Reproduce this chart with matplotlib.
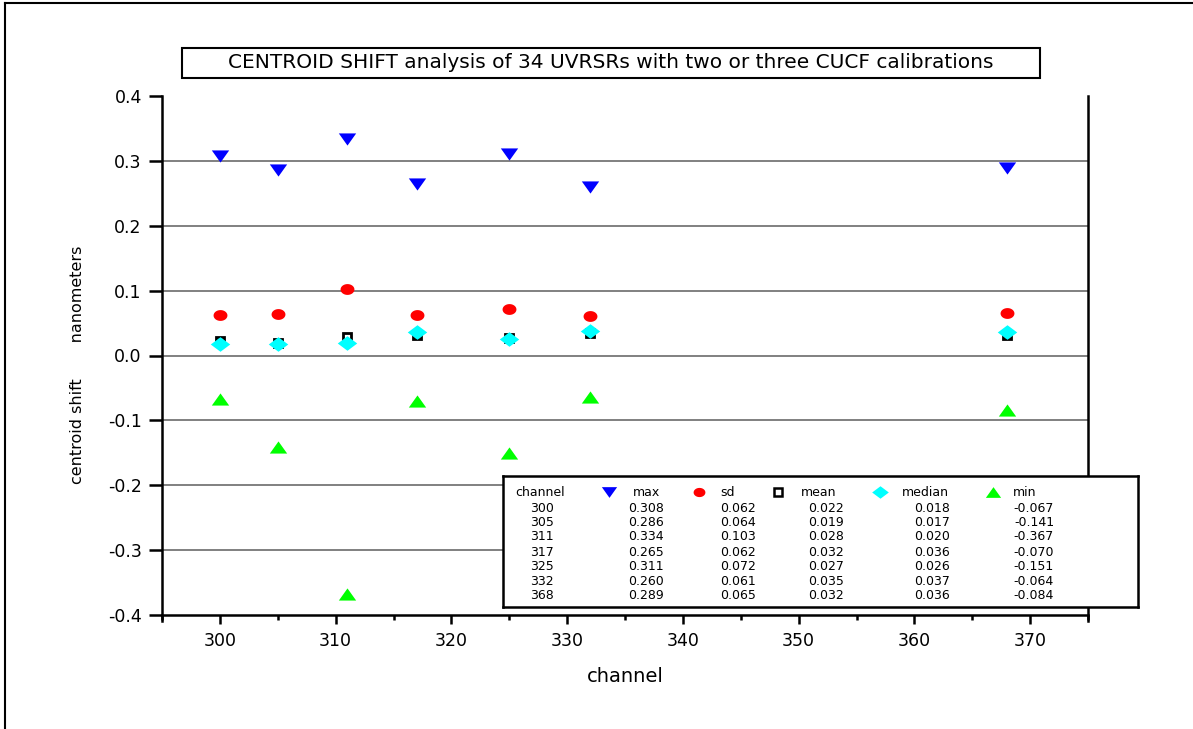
import numpy as np
import matplotlib
matplotlib.use('Agg')
import matplotlib.pyplot as plt
from matplotlib.lines import Line2D

# values from the table in the chart
channel = [300, 305, 311, 317, 325, 332, 368]
max_shift = [0.308, 0.286, 0.334, 0.265, 0.311, 0.260, 0.289]
sd_shift = [0.062, 0.064, 0.103, 0.062, 0.072, 0.061, 0.065]
mean_shift = [0.022, 0.019, 0.028, 0.032, 0.027, 0.035, 0.032]
median_shift = [0.018, 0.017, 0.020, 0.036, 0.026, 0.037, 0.036]
min_shift = [-0.067, -0.141, -0.367, -0.070, -0.151, -0.064, -0.084]

yticks = [-0.4, -0.3, -0.2, -0.1, 0.0, 0.1, 0.2, 0.3, 0.4]
xticks = [300, 310, 320, 330, 340, 350, 360, 370]

plt.rcParams['font.family'] = ['DejaVu Sans']

W, H = 1193, 729
fig = plt.figure(figsize=(W / 100, H / 100), dpi=100)

def fx(x):
    return x / W

def fy(y):
    return 1 - y / H

# outer frame (top and left edges are visible)
fig.add_artist(Line2D([fx(5), fx(5)], [fy(3), 0], transform=fig.transFigure, color='k', lw=1.5))
fig.add_artist(Line2D([fx(5), 1], [fy(3), fy(3)], transform=fig.transFigure, color='k', lw=1.5))

ax = fig.add_axes([fx(162), fy(615), fx(1088) - fx(162), fy(96) - fy(615)])

tri_down = [(-1, 0.7), (1, 0.7), (0, -0.7)]
tri_up = [(-1, -0.7), (1, -0.7), (0, 0.7)]
diamond = [(-1, 0), (0, 0.75), (1, 0), (0, -0.75)]
ellipse = [(np.cos(t), 0.78 * np.sin(t)) for t in np.linspace(0, 2 * np.pi, 40)]

ax.plot(channel, max_shift, ls='none', marker=tri_down, ms=12.5, color='#0000ff', mec='none')
ax.plot(channel, sd_shift, ls='none', marker=ellipse, ms=10, color='#ff0000', mec='none')
ax.plot(channel, mean_shift, ls='none', marker='s', ms=5.5, mfc='white', mec='black', mew=2)
ax.plot(channel, median_shift, ls='none', marker=diamond, ms=14, color='#00ffff', mec='none')
ax.plot(channel, min_shift, ls='none', marker=tri_up, ms=12.5, color='#00ff00', mec='none')

for v in yticks[1:-1]:
    ax.axhline(v, color='#808080', lw=1.4, zorder=0)

ax.set_xlim(295, 375)
ax.set_ylim(-0.4, 0.4)
ax.spines['top'].set_visible(False)
for s in ['left', 'right', 'bottom']:
    ax.spines[s].set_linewidth(1.8)
ax.spines['right'].set_bounds(-0.41, 0.4)
ax.spines['left'].set_bounds(-0.41, 0.4)

ax.set_yticks(yticks)
ax.set_yticklabels([f'{v:.1f}' for v in yticks])
ax.set_xticks(xticks)
ax.set_xticks(np.arange(295, 376, 10), minor=True)
ax.tick_params(axis='y', direction='out', length=9.5, width=1.8, labelsize=12.5, pad=5, right=False)
ax.tick_params(axis='x', which='major', direction='out', length=6.5, width=1.8, labelsize=12.5, pad=6)
ax.tick_params(axis='x', which='minor', direction='out', length=3.6, width=1.8)

ax.set_xlabel('channel', fontsize=14, labelpad=12)
fig.text(fx(77), fy(365), 'centroid shift       nanometers', rotation=90,
         ha='center', va='center', fontsize=11.5)

# title box
fig.text(fx(611), fy(63), 'CENTROID SHIFT analysis of 34 UVRSRs with two or three CUCF calibrations',
         ha='center', va='center', fontsize=14.5)
fig.add_artist(plt.Rectangle((fx(182), fy(78)), fx(1040) - fx(182), fy(48) - fy(78),
                             transform=fig.transFigure, fill=False, ec='k', lw=1.5))

# table legend
bx0, bx1, by0, by1 = 503, 1138, 476, 607
lg = fig.add_axes([fx(bx0), fy(by1), fx(bx1) - fx(bx0), fy(by0) - fy(by1)], zorder=5)
lg.set_xlim(bx0, bx1)
lg.set_ylim(by1, by0)
lg.set_xticks([])
lg.set_yticks([])
for s in lg.spines.values():
    s.set_linewidth(1.8)

hy = 492
rows_y = [508, 522, 536, 552, 566, 581, 595]
fs = 9

lg.text(515, hy, 'channel', fontsize=fs, va='center', ha='left')
for y, c in zip(rows_y, channel):
    lg.text(542, y, str(c), fontsize=fs, va='center', ha='center')

columns = [
    ('max', max_shift, 609, 646, 664, dict(marker=tri_down, ms=11, color='#0000ff', mec='none')),
    ('sd', sd_shift, 699, 728, 756, dict(marker=ellipse, ms=8.5, color='#ff0000', mec='none')),
    ('mean', mean_shift, 778, 819, 844, dict(marker='s', ms=5.5, mfc='white', mec='black', mew=1.8)),
    ('median', median_shift, 880, 925, 950, dict(marker=diamond, ms=12, color='#00ffff', mec='none')),
    ('min', min_shift, 993, 1025, 1054, dict(marker=tri_up, ms=11, color='#00ff00', mec='none')),
]
for name, vals, mx, lx, rx, style in columns:
    lg.plot([mx], [hy], ls='none', **style)
    lg.text(lx, hy, name, fontsize=fs, va='center', ha='center')
    for y, v in zip(rows_y, vals):
        lg.text(rx, y, f'{v:.3f}', fontsize=fs, va='center', ha='right')

fig.savefig('out.png', dpi=100)
